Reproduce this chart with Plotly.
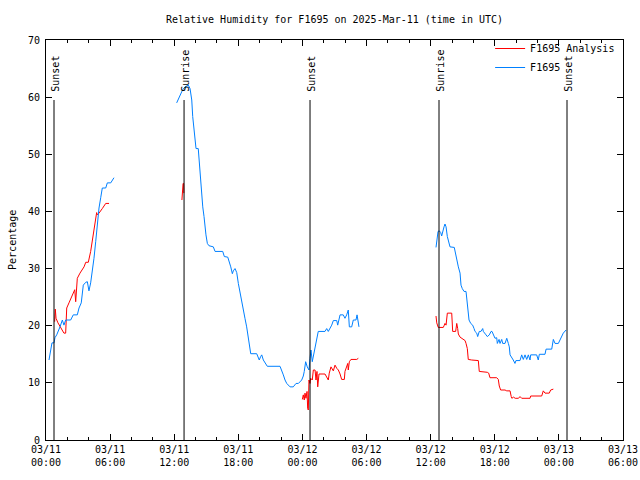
import datetime as dt
import plotly.graph_objects as go

BASE = dt.datetime(2025, 3, 11, 0, 0)

# Hours since 2025-03-11 00:00 UTC; None marks a gap in the record
analysis_hours = [
    0.81, 0.87, 0.94, 1.12, 1.40, 1.68, 1.84, 1.94, 2.15, 2.46, 2.69, 2.78, 2.87, 2.93,
    3.18, 3.56, 3.72, 3.96, 4.18, 4.33, 4.49, 4.65, 4.74, 4.80, 4.96, 5.27, 5.59, 5.90,
    None,
    12.72, 12.74, 12.80, 12.83, 12.88, 12.90,
    None,
    23.99, 24.08, 24.17, 24.24, 24.33, 24.43, 24.49, 24.55, 24.61, 24.71, 24.77, 24.92,
    25.02, 25.18, 25.27, 25.36, 25.43, 25.55, 26.11, 26.27, 26.42, 26.51, 26.67, 26.89,
    27.05, 27.21, 27.36, 27.52, 27.67, 27.92, 27.98, 28.24, 28.29, 28.39, 28.54, 29.08, 29.23,
    None,
    36.50, 36.57, 36.71, 37.18, 37.28, 37.34, 37.44, 37.56, 37.97, 38.06, 38.34, 38.44,
    38.53, 38.59, 38.75, 38.91, 39.06, 39.22, 39.31, 39.43, 39.52, 39.68, 39.84, 40.46,
    40.55, 41.30, 41.43, 41.55, 42.18, 42.33, 42.42, 42.55, 42.96, 43.12, 43.43, 43.54,
    43.60, 43.75, 43.91, 44.22, 44.36, 44.52, 45.30, 45.36, 46.39, 46.54, 46.70, 47.10,
    47.23, 47.48,
]
analysis_rh = [
    20.7, 22.9, 21.3, 20.5, 19.6, 18.7, 18.7, 23.1, 24.0, 25.4, 26.3, 24.2, 26.3, 28.3,
    29.2, 30.3, 31.1, 31.1, 33.0, 34.7, 36.7, 39.1, 39.8, 39.4, 39.7, 40.5, 41.4, 41.4,
    None,
    42.0, 43.3, 43.3, 44.9, 44.9, 43.2,
    None,
    7.1, 7.9, 7.0, 8.2, 7.3, 8.5, 5.5, 5.25, 10.5, 9.9, 10.8, 10.5,
    12.25, 12.25, 10.5, 12.0, 9.3, 11.55, 11.55, 11.1, 10.5, 11.7, 12.8, 12.1,
    13.1, 12.55, 12.25, 11.55, 10.6, 10.6, 12.0, 13.4, 12.25, 13.7, 14.1, 14.1, 14.3,
    None,
    21.7, 20.5, 19.7, 19.7, 20.1, 20.4, 20.1, 22.2, 22.2, 19.0, 19.0, 20.4,
    19.5, 18.55, 18.0, 17.8, 17.5, 17.4, 16.9, 16.0, 14.1, 14.1, 14.0, 13.9,
    12.0, 11.85, 11.7, 10.9, 10.9, 10.6, 9.45, 8.75, 8.75, 8.6, 8.6, 7.6,
    7.3, 7.5, 7.3, 7.3, 7.6, 7.3, 7.3, 7.7, 7.7, 8.6, 8.2, 8.2,
    8.75, 8.9,
]

obs_hours = [
    0.28, 0.44, 0.56, 0.75, 0.84, 1.00, 1.12, 1.31, 1.53, 1.68, 1.84, 2.31, 2.55, 2.93,
    3.09, 3.30, 3.49, 3.72, 3.87, 4.02, 4.18, 4.33, 4.49, 4.65, 4.80, 4.96, 5.12, 5.27,
    5.59, 5.74, 6.06, 6.36,
    None,
    12.23, 12.54, 12.79, 13.01, 13.17, 13.32, 13.48, 13.64, 13.73, 13.85, 13.95, 14.04,
    14.25, 14.35, 14.48, 14.57, 14.67, 14.79, 14.88, 14.97, 15.10, 15.25, 15.66, 15.82,
    16.54, 16.69, 17.01, 17.16, 17.29, 17.44, 17.53, 17.69, 17.85, 18.00, 18.16, 18.32,
    18.47, 18.62, 18.78, 18.93, 19.03, 19.16, 19.72, 19.87, 19.96, 20.09, 20.19, 20.34,
    20.50, 20.71, 21.90, 22.06, 22.21, 22.37, 22.53, 22.84, 23.14, 23.40, 23.62, 23.93,
    24.08, 24.17, 24.30, 24.45, 24.61, 24.71, 24.80, 24.92, 25.02, 25.18, 25.33, 25.48,
    26.11, 26.27, 26.42, 26.58, 26.74, 26.89, 27.21, 27.30, 27.52, 27.82, 27.98, 28.14,
    28.29, 28.39, 28.61, 28.76, 29.01, 29.11, 29.23, 29.29,
    None,
    36.50, 36.57, 36.69, 36.81, 36.94, 37.03, 37.13, 37.25, 37.34, 37.44, 37.56, 37.65,
    37.81, 38.21, 38.37, 38.49, 38.59, 38.75, 38.84, 38.96, 39.12, 39.31, 39.43, 39.59,
    39.75, 39.93, 40.06, 40.15, 40.31, 40.40, 40.55, 40.71, 40.87, 40.93, 41.18, 41.30,
    41.49, 41.65, 41.74, 41.86, 42.02, 42.18, 42.24, 42.40, 42.49, 42.65, 42.74, 42.96,
    43.12, 43.27, 43.36, 43.43, 43.58, 43.73, 43.89, 43.98, 44.36, 44.52, 44.67, 44.83,
    44.99, 45.14, 45.30, 45.36, 45.92, 46.07, 46.17, 46.70, 46.80, 47.33, 47.48, 47.64,
    47.95, 48.10, 48.26, 48.41, 48.67,
]
obs_rh = [
    14.0, 16.2, 17.0, 17.0, 17.9, 18.4, 19.1, 19.8, 21.0, 20.1, 21.0, 21.0, 21.9, 21.9,
    23.1, 24.0, 27.1, 27.6, 27.7, 26.1, 27.5, 29.5, 31.8, 34.7, 37.6, 40.6, 42.4, 44.1,
    44.1, 45.0, 45.0, 45.9,
    None,
    59.0, 60.2, 61.3, 61.8, 62.0, 62.1, 61.5, 59.5, 56.6, 54.3, 52.5, 51.0,
    51.0, 48.4, 44.9, 42.6, 40.8, 39.1, 37.3, 35.9, 34.4, 34.0, 33.8, 33.0,
    33.0, 32.1, 32.0, 31.2, 30.3, 29.1, 29.6, 30.0, 29.3, 27.4, 25.7, 23.9,
    22.5, 21.3, 19.8, 17.8, 16.3, 15.1, 15.1, 14.3, 14.0, 14.6, 14.9, 14.0,
    13.4, 12.9, 12.9, 12.2, 11.4, 10.5, 9.9, 9.3, 9.3, 9.9, 9.9, 10.5,
    11.2, 12.0, 13.7, 12.8, 12.25, 14.3, 15.75, 13.7, 14.6, 16.3, 17.5, 19.0,
    19.0, 19.5, 19.0, 19.5, 20.1, 20.9, 20.9, 20.1, 21.9, 21.9, 21.3, 21.9,
    22.75, 19.8, 19.8, 21.0, 21.0, 21.9, 20.4, 19.8,
    None,
    33.7, 35.1, 36.5, 36.6, 36.3, 35.7, 36.75, 37.3, 37.8, 37.3, 35.6, 34.7,
    33.8, 33.7, 32.1, 31.2, 30.3, 29.2, 27.1, 26.5, 26.0, 26.0, 23.3, 21.0,
    20.4, 20.1, 19.5, 19.0, 18.7, 18.1, 19.0, 19.0, 19.5, 19.0, 18.4, 18.1,
    18.4, 19.0, 19.0, 18.4, 17.8, 17.9, 16.9, 17.6, 16.9, 17.6, 16.9, 16.9,
    17.8, 16.9, 16.3, 14.9, 14.3, 14.0, 13.4, 13.9, 13.9, 14.9, 14.1, 14.9,
    14.1, 14.9, 14.0, 14.9, 14.9, 14.0, 15.0, 15.0, 15.9, 15.9, 17.6, 16.9,
    16.9, 17.5, 18.1, 18.7, 19.25,
]

sun_labels = ["Sunset", "Sunrise", "Sunset", "Sunrise", "Sunset"]
sun_hours = [0.75, 12.92, 24.71, 36.78, 48.76]

tick_hours = [0, 6, 12, 18, 24, 30, 36, 42, 48, 54]
tick_labels = ["03/11<br>00:00", "03/11<br>06:00", "03/11<br>12:00", "03/11<br>18:00",
               "03/12<br>00:00", "03/12<br>06:00", "03/12<br>12:00", "03/12<br>18:00",
               "03/13<br>00:00", "03/13<br>06:00"]


def to_time(hours):
    return [None if h is None else BASE + dt.timedelta(hours=h) for h in hours]


FONT = "DejaVu Sans Mono"
W, H = 640, 480

fig = go.Figure()
fig.add_trace(go.Scatter(x=to_time(analysis_hours), y=analysis_rh, mode="lines",
                         name="F1695 Analysis", line=dict(color="#ff0000", width=1),
                         connectgaps=False))
fig.add_trace(go.Scatter(x=to_time(obs_hours), y=obs_rh, mode="lines",
                         name="F1695", line=dict(color="#0080ff", width=1),
                         connectgaps=False))

for lab, h, t in zip(sun_labels, sun_hours, to_time(sun_hours)):
    fig.add_shape(type="line", xref="x", yref="y", x0=t, x1=t, y0=0, y1=59.5,
                  line=dict(color="black", width=1))
    fig.add_annotation(x=t, y=60.6, xref="x", yref="y", text=lab, textangle=-90,
                       showarrow=False, xanchor="center", yanchor="bottom", xshift=2,
                       font=dict(family=FONT, size=10, color="black"))

fig.add_annotation(x=-0.059, y=0.5, xref="paper", yref="paper", text="Percentage",
                   textangle=-90, showarrow=False, xanchor="center", yanchor="middle",
                   font=dict(family=FONT, size=10, color="black"))

fig.update_layout(
    width=W, height=H,
    margin=dict(l=46, r=17, t=40, b=40, autoexpand=False),
    paper_bgcolor="white", plot_bgcolor="white",
    font=dict(family=FONT, size=10, color="black"),
    title=dict(text="Relative Humidity for F1695 on 2025-Mar-11 (time in UTC)",
               x=0.5, xref="paper", y=1 - 19 / H, yanchor="middle",
               font=dict(family=FONT, size=10, color="black")),
    showlegend=True,
    legend=dict(x=0.995, y=1.015, xanchor="right", yanchor="top", bgcolor="rgba(0,0,0,0)",
                borderwidth=0, font=dict(family=FONT, size=10), tracegroupgap=0,
                itemwidth=30),
)
fig.update_xaxes(
    range=[BASE, BASE + dt.timedelta(hours=54)], automargin=False,
    tickvals=to_time(tick_hours), ticktext=tick_labels,
    ticks="inside", ticklen=6, tickcolor="black",
    showline=True, linecolor="black", linewidth=1, mirror="allticks",
    showgrid=False, zeroline=False,
    minor=dict(dtick=2 * 3600 * 1000, tick0=BASE, ticks="inside", ticklen=3,
               tickcolor="black", showgrid=False),
    tickfont=dict(family=FONT, size=10),
)
fig.update_yaxes(
    range=[0, 70], dtick=10, tick0=0, automargin=False,
    ticks="inside", ticklen=6, tickcolor="black",
    showline=True, linecolor="black", linewidth=1, mirror="allticks",
    showgrid=False, zeroline=False, ticklabelstandoff=3,
    tickfont=dict(family=FONT, size=10),
)

# remove the browser's default page margin so the 640x480 figure fills the window
fig.write_html("out.html",
               config={"displayModeBar": False},
               post_script="document.body.style.margin='0';"
                           "document.body.style.overflow='hidden';")
